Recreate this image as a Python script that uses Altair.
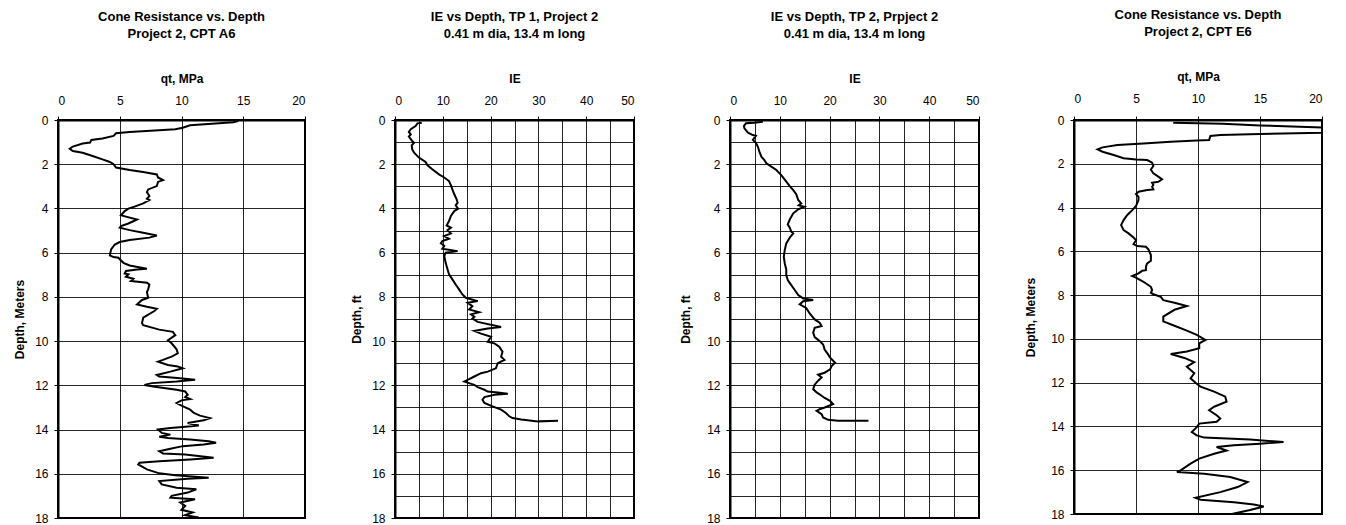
import altair as alt
import pandas as pd

FONT = "Liberation Sans"

# ---------------- data ----------------
a6_qt = [14.6, 14.2, 10.7, 10.1, 9.5, 5.8, 4.7, 4.5, 3.6, 2.7, 2.6, 2.0, 1.2, 0.95, 1.2, 2.0, 2.8, 3.6, 4.2, 4.5,
         4.7, 5.8, 6.9, 8.0, 8.1, 8.5, 8.1, 8.0, 7.3, 7.2, 7.4, 7.2, 7.4, 6.9, 6.2, 5.7, 5.4, 5.1, 5.5, 6.4,
         5.7, 5.1, 5.0, 5.8, 6.9, 8.0, 7.4, 5.8, 5.0, 4.6, 4.3, 4.2, 4.5, 4.9, 5.0, 5.3, 5.8, 7.2, 6.4, 5.5,
         5.4, 5.7, 5.5, 6.1, 5.9, 7.2, 7.4, 7.3, 7.2, 7.3, 6.8, 6.4, 7.2, 8.0, 7.8, 6.9, 6.8, 6.9, 8.2, 9.3,
         9.5, 8.9, 9.2, 9.6, 9.7, 9.2, 8.5, 8.1, 8.9, 9.7, 10.1, 9.1, 8.0, 8.2, 9.9, 11.1, 9.6, 7.6, 7.0, 7.7,
         9.6, 10.3, 10.5, 10.3, 10.7, 10.0, 9.6, 10.0, 10.7, 11.0, 11.5, 12.3, 11.8, 10.5, 11.4, 10.1, 9.1, 8.1, 8.4, 9.1,
         8.2, 8.9, 10.7, 12.2, 12.8, 11.8, 10.1, 9.1, 8.2, 8.5, 10.3, 12.6, 10.7, 8.2, 6.6, 6.5, 7.2, 8.2, 9.5, 12.2,
         10.5, 8.2, 8.4, 9.6, 11.2, 10.5, 9.2, 9.1, 10.1, 11.1, 9.9, 10.3, 10.0, 10.9, 10.3, 11.4]
a6_depth = [0.05, 0.1, 0.24, 0.35, 0.42, 0.54, 0.6, 0.72, 0.84, 0.9, 1.02, 1.06, 1.2, 1.3, 1.4, 1.48, 1.63, 1.78, 1.9, 2.0,
            2.15, 2.26, 2.35, 2.46, 2.6, 2.72, 2.8, 2.99, 3.14, 3.26, 3.44, 3.56, 3.62, 3.77, 3.92, 4.01, 4.12, 4.31, 4.37, 4.5,
            4.68, 4.8, 4.87, 4.98, 5.1, 5.22, 5.32, 5.43, 5.52, 5.63, 5.85, 6.12, 6.2, 6.23, 6.3, 6.46, 6.58, 6.73, 6.76, 6.83,
            6.94, 6.98, 7.09, 7.18, 7.28, 7.36, 7.44, 7.66, 7.78, 8.04, 8.14, 8.34, 8.45, 8.54, 8.64, 8.94, 9.18, 9.28, 9.48, 9.58,
            9.73, 9.96, 10.1, 10.37, 10.55, 10.7, 10.85, 10.93, 11.08, 11.15, 11.23, 11.38, 11.53, 11.6, 11.68, 11.75, 11.83, 11.9, 11.98, 12.05,
            12.2, 12.28, 12.43, 12.53, 12.62, 12.68, 12.8, 12.92, 13.1, 13.25, 13.37, 13.48, 13.58, 13.7, 13.82, 13.88, 13.93, 14.0, 14.15, 14.23,
            14.33, 14.38, 14.45, 14.53, 14.6, 14.68, 14.75, 14.87, 14.98, 15.08, 15.13, 15.28, 15.35, 15.43, 15.5, 15.58, 15.8, 15.98, 16.07, 16.18,
            16.22, 16.33, 16.48, 16.63, 16.7, 16.85, 17.0, 17.08, 17.12, 17.15, 17.3, 17.45, 17.63, 17.75, 17.87, 17.98]

tp1_ie = [5.6, 4.7, 4.3, 3.3, 2.9, 3.3, 2.9, 3.6, 4.0, 3.5, 3.6, 4.0, 5.0, 6.4, 6.8, 7.8, 9.2, 10.3, 11.3, 11.7,
          12.0, 12.4, 12.9, 13.1, 12.7, 13.2, 12.4, 11.7, 11.3, 10.8, 11.7, 11.0, 11.7, 10.3, 11.3, 9.9, 9.6, 10.3, 9.9, 13.1,
          10.6, 10.3, 10.6, 11.0, 11.3, 12.0, 12.7, 13.4, 14.1, 14.8, 17.3, 15.2, 16.2, 15.5, 17.6, 15.9, 16.6, 16.2, 17.3, 22.2,
          19.4, 16.6, 18.0, 20.1, 19.4, 20.8, 21.8, 22.5, 22.2, 22.9, 21.5, 21.1, 19.4, 18.0, 16.6, 15.2, 14.5, 15.5, 16.6, 17.3,
          18.7, 19.4, 21.5, 23.6, 20.8, 18.7, 18.3, 18.7, 20.4, 22.2, 23.2, 23.9, 24.6, 26.4, 29.9, 34.1]
tp1_depth = [0.12, 0.15, 0.27, 0.42, 0.54, 0.65, 0.75, 0.95, 1.03, 1.15, 1.33, 1.48, 1.7, 1.9, 2.05, 2.23, 2.46, 2.6, 2.76, 2.96,
             3.14, 3.36, 3.59, 3.74, 3.86, 4.01, 4.12, 4.34, 4.57, 4.77, 4.87, 4.98, 5.13, 5.25, 5.37, 5.48, 5.58, 5.7, 5.82, 5.93,
             6.0, 6.15, 6.46, 6.76, 6.98, 7.21, 7.44, 7.66, 7.89, 8.04, 8.19, 8.27, 8.42, 8.57, 8.69, 8.79, 8.9, 8.98, 9.13, 9.36,
             9.43, 9.54, 9.66, 9.8, 10.03, 10.1, 10.25, 10.48, 10.7, 10.85, 11.0, 11.23, 11.38, 11.45, 11.6, 11.75, 11.83, 11.9, 11.98, 12.08,
             12.2, 12.28, 12.32, 12.38, 12.43, 12.53, 12.65, 12.8, 12.95, 13.1, 13.25, 13.4, 13.48, 13.55, 13.63, 13.6]

tp2_ie = [6.6, 4.9, 3.2, 2.8, 2.9, 3.6, 4.6, 5.2, 4.6, 5.2, 5.6, 5.9, 6.3, 6.9, 7.3, 8.3, 9.3, 10.3, 10.8, 11.3,
          12.0, 12.7, 13.3, 13.7, 14.3, 13.8, 14.9, 13.7, 12.7, 12.0, 11.6, 12.0, 12.3, 12.7, 12.0, 11.3, 11.0, 10.8, 11.0, 11.3,
          11.3, 11.6, 12.3, 13.0, 13.7, 14.7, 16.7, 14.7, 14.0, 15.3, 16.0, 17.0, 18.0, 18.4, 17.0, 16.7, 17.0, 18.0, 18.7, 19.0,
          19.7, 20.1, 21.1, 20.4, 20.1, 19.0, 17.7, 18.4, 17.7, 17.0, 16.7, 17.4, 18.4, 19.0, 20.1, 20.7, 19.0, 18.0, 17.4, 18.4,
          18.7, 19.7, 21.7, 27.8]
tp2_depth = [0.08, 0.12, 0.15, 0.27, 0.38, 0.57, 0.68, 0.72, 0.9, 1.03, 1.21, 1.43, 1.66, 1.81, 1.96, 2.11, 2.26, 2.49, 2.64, 2.79,
             2.99, 3.17, 3.36, 3.62, 3.77, 3.86, 3.92, 4.04, 4.22, 4.5, 4.72, 4.87, 5.05, 5.13, 5.32, 5.58, 5.88, 6.18, 6.49, 6.76,
             7.01, 7.24, 7.47, 7.69, 7.92, 8.07, 8.14, 8.2, 8.34, 8.5, 8.75, 9.02, 9.17, 9.32, 9.4, 9.62, 9.82, 10.0, 10.15, 10.38,
             10.6, 10.75, 10.98, 11.13, 11.28, 11.43, 11.52, 11.64, 11.79, 11.97, 12.17, 12.32, 12.47, 12.57, 12.7, 12.85, 13.0, 13.08, 13.15, 13.3,
             13.45, 13.56, 13.6, 13.6]

e6_qt = [8.0, 12.0, 15.0, 20.0, 23.0, 20.0, 15.0, 11.8, 11.0, 10.9, 9.9, 7.8, 5.6, 3.5, 2.3, 1.9, 2.3, 3.2, 4.0, 5.0,
         5.9, 6.3, 6.4, 6.2, 6.4, 6.8, 7.1, 6.8, 6.3, 6.4, 6.3, 6.4, 5.9, 5.2, 5.0, 5.2, 5.2, 5.0, 4.7, 4.3,
         4.0, 3.8, 4.0, 4.4, 4.8, 5.0, 4.8, 5.1, 5.8, 6.0, 6.2, 6.2, 5.9, 5.8, 5.8, 5.5, 5.2, 4.7, 5.0, 5.6,
         6.2, 6.3, 6.2, 6.4, 7.0, 7.2, 8.1, 9.1, 8.1, 7.2, 7.2, 8.1, 9.1, 9.9, 10.6, 10.1, 10.1, 9.1, 7.8, 8.9,
         9.7, 9.1, 9.7, 9.4, 9.8, 10.2, 11.3, 12.2, 12.3, 11.3, 10.9, 11.5, 11.8, 11.5, 10.1, 9.9, 9.5, 9.9, 10.5, 14.2,
         16.9, 15.0, 12.9, 11.5, 12.3, 11.3, 10.1, 9.4, 8.6, 8.3, 10.5, 12.6, 14.0, 13.2, 11.8, 9.8, 10.2, 12.9, 14.5, 15.3,
         14.2, 13.0, 12.0]
e6_depth = [0.12, 0.17, 0.25, 0.34, 0.46, 0.58, 0.64, 0.69, 0.73, 0.91, 0.94, 0.99, 1.07, 1.14, 1.25, 1.34, 1.45, 1.6, 1.75, 1.8,
            1.83, 1.95, 2.1, 2.26, 2.44, 2.59, 2.71, 2.82, 2.87, 2.97, 3.05, 3.17, 3.2, 3.28, 3.38, 3.51, 3.66, 3.93, 4.12, 4.34,
            4.57, 4.8, 5.03, 5.18, 5.37, 5.49, 5.67, 5.76, 5.79, 5.91, 6.17, 6.43, 6.55, 6.7, 6.86, 6.89, 7.01, 7.13, 7.2, 7.39,
            7.62, 7.77, 7.9, 7.96, 8.08, 8.23, 8.35, 8.5, 8.67, 8.98, 9.2, 9.4, 9.62, 9.82, 10.05, 10.2, 10.43, 10.58, 10.69, 10.87,
            11.06, 11.27, 11.57, 11.8, 12.0, 12.18, 12.41, 12.64, 12.87, 13.1, 13.26, 13.49, 13.64, 13.79, 13.87, 14.03, 14.26, 14.41, 14.51, 14.6,
            14.71, 14.79, 14.86, 14.94, 15.1, 15.25, 15.47, 15.7, 16.01, 16.08, 16.16, 16.31, 16.54, 16.77, 17.0, 17.26, 17.35, 17.46, 17.57, 17.66,
            17.82, 17.97, 18.1]

titles = [
    ["Cone Resistance vs. Depth", "Project 2, CPT A6"],
    ["IE vs Depth, TP 1, Project 2", "0.41 m dia, 13.4 m long"],
    ["IE vs Depth, TP 2, Prpject 2", "0.41 m dia, 13.4 m long"],
    ["Cone Resistance vs. Depth", "Project 2, CPT E6"],
]
x_titles = ["qt, MPa", "IE", "IE", "qt, MPa"]
y_titles = ["Depth, Meters", "Depth, ft", "Depth, ft", "Depth, Meters"]

qt_ticks = [0, 5, 10, 15, 20]
ie_ticks = [0, 10, 20, 30, 40, 50]
ie_minor = [5, 15, 25, 35, 45]
depth_ticks = [0, 2, 4, 6, 8, 10, 12, 14, 16, 18]
depth_minor = [1, 3, 5, 7, 9, 11, 13, 15, 17]


def frame(xs, ds):
    return pd.DataFrame({"x": xs, "d": ds, "i": list(range(len(xs)))})


def panel(df, xmax, xticks, title, xtitle, ytitle, width, height, ypad, xlabpad=9,
          xminor=None, yminor=None):
    base = alt.Chart(df)
    xscale = alt.Scale(domain=[0, xmax], nice=False, zero=False)
    yscale = alt.Scale(domain=[0, 18], reverse=True, nice=False, zero=False)
    line = base.mark_line(color="black", strokeWidth=2, clip=True).encode(
        x=alt.X("x:Q", scale=xscale,
                axis=alt.Axis(orient="top", values=xticks, title=xtitle, grid=True,
                              tickSize=4, labelPadding=xlabpad, titlePadding=9)),
        y=alt.Y("d:Q", scale=yscale,
                axis=alt.Axis(values=depth_ticks, title=ytitle, grid=True,
                              tickSize=4, labelPadding=6, titlePadding=ypad)),
        order=alt.Order("i:Q"),
    )
    layers = [line]
    if xminor is not None:
        grid = base.mark_line(opacity=0).encode(
            x=alt.X("x:Q", scale=xscale,
                    axis=alt.Axis(orient="bottom", values=xminor, title=None, grid=True,
                                  labels=False, ticks=False, domain=False,
                                  tickSize=0, labelPadding=0)),
            y=alt.Y("d:Q", scale=yscale,
                    axis=alt.Axis(orient="right", values=yminor, title=None, grid=True,
                                  labels=False, ticks=False, domain=False,
                                  tickSize=0, labelPadding=0)),
            order=alt.Order("i:Q"),
        )
        layers = [grid, line]
    ch = alt.layer(*layers).properties(
        width=width, height=height,
        title=alt.TitleParams(text=title, fontSize=13, fontWeight="bold", font=FONT,
                              lineHeight=17, offset=31, anchor="middle", color="black"),
    )
    if xminor is not None:
        ch = ch.resolve_axis(x="independent", y="independent")
    return ch


p1 = panel(frame(a6_qt, a6_depth), 20, qt_ticks, titles[0], x_titles[0], y_titles[0], 247, 398, 8)
p2 = panel(frame(tp1_ie, tp1_depth), 50, ie_ticks, titles[1], x_titles[1], y_titles[1], 239, 398, 8,
           xminor=ie_minor, yminor=depth_minor)
p3 = panel(frame(tp2_ie, tp2_depth), 50, ie_ticks, titles[2], x_titles[2], y_titles[2], 249, 398, 14,
           xminor=ie_minor, yminor=depth_minor)
p4 = panel(frame(e6_qt, e6_depth), 20, qt_ticks, titles[3], x_titles[3], y_titles[3], 248, 394, 13,
           xlabpad=11)

chart = alt.hconcat(p1, p2, p3, p4, spacing=42).properties(
    padding={"left": 4, "top": 0, "right": 0, "bottom": 0}
).configure_view(
    stroke="black", strokeWidth=2
).configure_axis(
    labelFont=FONT, titleFont=FONT, labelFontSize=12, titleFontSize=12,
    titleFontWeight="bold", labelColor="black", titleColor="black",
    tickColor="black", domainColor="black", domainWidth=2,
    gridColor="black", gridWidth=1, gridOpacity=0.85,
)

chart.save("out.html", embed_options={"renderer": "svg", "actions": False})
